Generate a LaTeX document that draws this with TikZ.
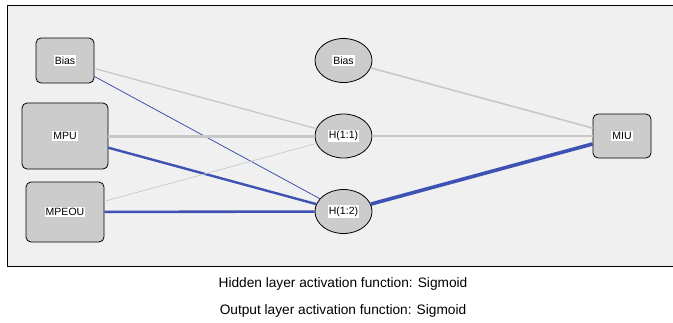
\documentclass[tikz,border=0pt]{standalone}
\usepackage{fontspec}
\setmainfont{Liberation Sans}
\usetikzlibrary{shapes.geometric}
\definecolor{bgc}{HTML}{F0F0F0}
\definecolor{nodec}{HTML}{CCCCCC}
\definecolor{grayw}{HTML}{C8C8C8}
\definecolor{bluew}{HTML}{3D52B2}
\tikzset{
  lbl/.style={fill=white,inner sep=1.2pt,font=\fontsize{10.5}{12}\selectfont},
  inbox/.style={draw=black,fill=nodec,rounded corners=5pt,line width=0.8pt,inner sep=0pt},
  hid/.style={draw=black,fill=nodec,ellipse,line width=0.8pt,inner sep=0pt,minimum width=57pt,minimum height=44pt},
  gw/.style={draw=grayw},
  bw/.style={draw=bluew},
}
\begin{document}
\begin{tikzpicture}[x=1pt,y=-1pt]
\useasboundingbox (0,0) rectangle (673,322);
\begin{scope}
\clip (0,0) rectangle (673,322);
\draw[fill=bgc,draw=black,line width=1pt] (7,5) rectangle (680,266);
\end{scope}
% input layer
\node[inbox,minimum width=58pt,minimum height=45pt] (b1) at (65,60.5) {};
\node[inbox,minimum width=86pt,minimum height=66pt] (mpu) at (65,136) {};
\node[inbox,minimum width=78pt,minimum height=60pt] (mpeou) at (65,212) {};
% hidden layer
\node[hid] (b2) at (343.5,60.5) {};
\node[hid] (h11) at (343.5,136) {};
\node[hid] (h12) at (343.5,211.5) {};
% output
\node[inbox,minimum width=58pt,minimum height=44pt] (miu) at (622,136) {};
% connectors
\draw[gw,line width=1.3pt] (b1) -- (h11);
\draw[bw,line width=0.8pt] (b1) -- (h12);
\draw[gw,line width=3pt] (mpu) -- (h11);
\draw[bw,line width=2.4pt] (mpu) -- (h12);
\draw[gw,line width=0.7pt] (mpeou) -- (h11);
\draw[bw,line width=2.6pt] (mpeou) -- (h12);
\draw[gw,line width=1.6pt] (b2) -- (miu);
\draw[gw,line width=2pt] (h11) -- (miu);
\draw[bw,line width=3.6pt] (h12) -- (miu);
% labels
\node[lbl] (tb1) at (b1) {Bias};
\node[lbl] (tmpu) at (mpu) {MPU};
\node[lbl] (tmpeou) at (mpeou) {MPEOU};
\node[lbl] (tb2) at (b2) {Bias};
\node[lbl] (th11) at (h11) {H(1:1)};
\node[lbl] (th12) at (h12) {H(1:2)};
\node[lbl] (tmiu) at (miu) {MIU};
\node[font=\fontsize{13.7}{15}\selectfont] (cap1) at (343,284) {Hidden layer activation function: Sigmoid};
\node[font=\fontsize{13.7}{15}\selectfont] (cap2) at (343,311) {Output layer activation function: Sigmoid};
\end{tikzpicture}
\end{document}
